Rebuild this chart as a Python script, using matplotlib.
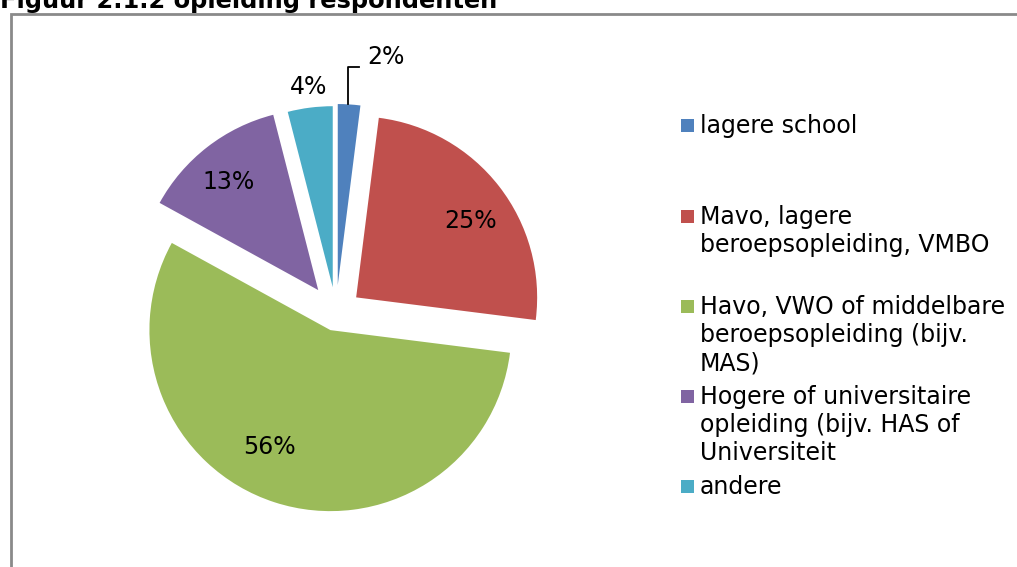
import matplotlib
matplotlib.use("Agg")
import matplotlib.pyplot as plt
from matplotlib.patches import Rectangle
from matplotlib.lines import Line2D

W, H = 1017, 567

categories = ["lagere school",
              "Mavo, lagere\nberoepsopleiding, VMBO",
              "Havo, VWO of middelbare\nberoepsopleiding (bijv.\nMAS)",
              "Hogere of universitaire\nopleiding (bijv. HAS of\nUniversiteit",
              "andere"]
values = [2, 25, 56, 13, 4]
colors = ["#4F81BD", "#C0504D", "#9BBB59", "#8064A2", "#4BACC6"]
title = "Figuur 2.1.2 opleiding respondenten"

# layout in pixels (y measured from top)
center = (336, 313)
radius = 181
explode = [28, 25.5, 18, 29, 26]
label_pos = [(386, 57), (471, 221), (269, 447), (229, 182), (309, 87)]
legend_base = [133, 224, 314, 404, 494]
line_step = 28


def py(y):
    return H - y


fig = plt.figure(figsize=(W / 100, H / 100), dpi=100)
ax = fig.add_axes([0, 0, 1, 1])
ax.pie(values, colors=colors, explode=explode, startangle=90, counterclock=False,
       center=(center[0], py(center[1])), radius=radius,
       wedgeprops=dict(linewidth=0), frame=True)
ax.set_xlim(0, W)
ax.set_ylim(0, H)
ax.set_aspect("equal")
ax.axis("off")

fs = 17
for v, (x, y) in zip(values, label_pos):
    ax.text(x, py(y), f"{v}%", ha="center", va="center", fontsize=fs, color="black")

# leader line for the small slice
ax.add_line(Line2D([348, 348, 359], [py(104), py(67), py(67)], color="black", lw=1.3))

# frame
ax.add_line(Line2D([11, 11, W], [0, py(14), py(14)], color="#8a8a8a", lw=2,
                   solid_joinstyle="miter"))

# title (cut off at top as in the source)
ax.text(0, py(8), title, ha="left", va="baseline", fontsize=17.4, fontweight="bold",
        color="black")

# legend
for lab, col, yb in zip(categories, colors, legend_base):
    ax.add_patch(Rectangle((681, py(yb - 1)), 13, 13, color=col, lw=0))
    n = lab.count("\n")
    ax.text(700, py(yb + n * line_step), lab, ha="left", va="baseline", fontsize=fs,
            color="black")

fig.savefig("out.png", dpi=100)
